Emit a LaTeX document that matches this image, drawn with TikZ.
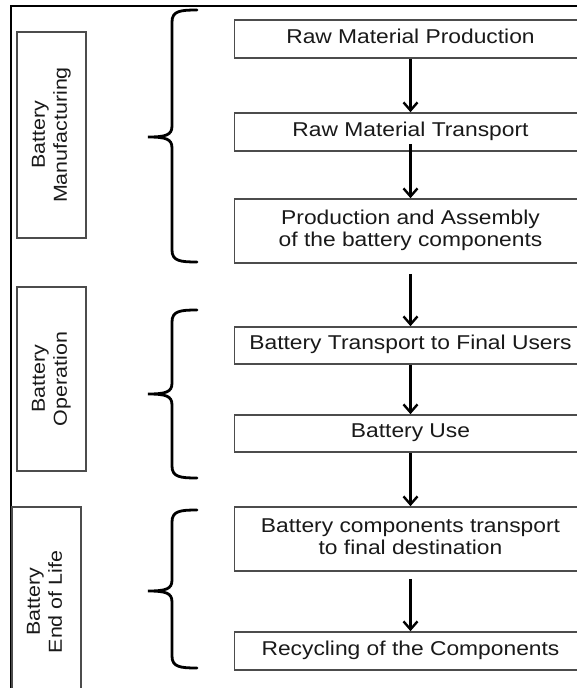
\documentclass[tikz,border=0pt]{standalone}
\usepackage{fontspec}
\setmainfont{Liberation Sans}
\usetikzlibrary{arrows.meta}

% widened sans text, one or more centred lines
\newcommand\wtext[1]{\scalebox{1.14}[1]{\begin{tabular}{@{}c@{}}#1\end{tabular}}}

% curly brace opening to the right: top end, tip, bottom end (y values)
\newcommand\curlybrace[3]{%
  \coordinate (bt) at (197,#1);
  \coordinate (bm) at (148,#2);
  \coordinate (bb) at (197,#3);
  \draw[brace] (bt) .. controls (180,#1) and (172,#1+1) .. (172,#1+12)
    -- (172,#2-11) .. controls (172,#2-2) and (166,#2) .. (bm)
    .. controls (166,#2) and (172,#2+2) .. (172,#2+11)
    -- (172,#3-12) .. controls (172,#3-1) and (180,#3) .. (bb);}

\begin{document}
\begin{tikzpicture}[x=1pt,y=-1pt,
  stage/.style={draw=black!70, line width=1.6pt, fill=white, text=black!90,
    minimum width=352pt, inner sep=0pt, font=\fontsize{20}{22}\selectfont},
  phase/.style={draw=black!70, line width=1.6pt, fill=white, text=black!90,
    rotate=90, inner sep=0pt, minimum height=69pt, font=\fontsize{18.8}{22}\selectfont},
  flow/.style={line width=2.6pt,
    -{Straight Barb[length=8pt,width=14pt,line width=2.4pt]}},
  brace/.style={line width=2.8pt, line cap=round}]

\useasboundingbox (0,0) rectangle (577,688);
\clip (0,0) rectangle (577,688);

% outer frame (left and top edges)
\draw[line width=2.2pt] (11,700) -- (11,6) -- (590,6);

% process stages
\node[stage, minimum height=38pt] (b1) at (410.5,39)   {\wtext{Raw Material Production}};
\node[stage, minimum height=38pt] (b2) at (410.5,132)  {\wtext{Raw Material Transport}};
\node[stage, minimum height=64pt] (b3) at (410.5,231)  {\wtext{Production and Assembly\\of the battery components}};
\node[stage, minimum height=37pt] (b4) at (410.5,345.5){\wtext{Battery Transport to Final Users}};
\node[stage, minimum height=37pt] (b5) at (410.5,433.5){\wtext{Battery Use}};
\node[stage, minimum height=64pt] (b6) at (410.5,539)  {\wtext{Battery components transport\\to final destination}};
\node[stage, minimum height=38pt] (b7) at (410.5,651)  {\wtext{Recycling of the Components}};

% flow between stages
\draw[flow] (b1.south) -- (b2.north);
\draw[flow] ([yshift=8pt]b2.south) -- (b3.north);
\draw[flow] ([yshift=-10pt]b3.south) -- (b4.north);
\draw[flow] (b4.south) -- (b5.north);
\draw[flow] (b5.south) -- (b6.north);
\draw[flow] ([yshift=-7pt]b6.south) -- (b7.north);

% life-cycle phases
\node[phase, minimum width=206pt] (p1) at (51.5,135) {\wtext{Battery\\Manufacturing}};
\node[phase, minimum width=184pt] (p2) at (51.5,379) {\wtext{Battery\\Operation}};
\node[phase, minimum width=190pt] (p3) at (46.5,602) {\wtext{Battery\\End of Life}};

% braces grouping the stages of each phase
\curlybrace{10}{137}{262}
\curlybrace{310}{394}{478}
\curlybrace{510}{591}{668}
\end{tikzpicture}
\end{document}
